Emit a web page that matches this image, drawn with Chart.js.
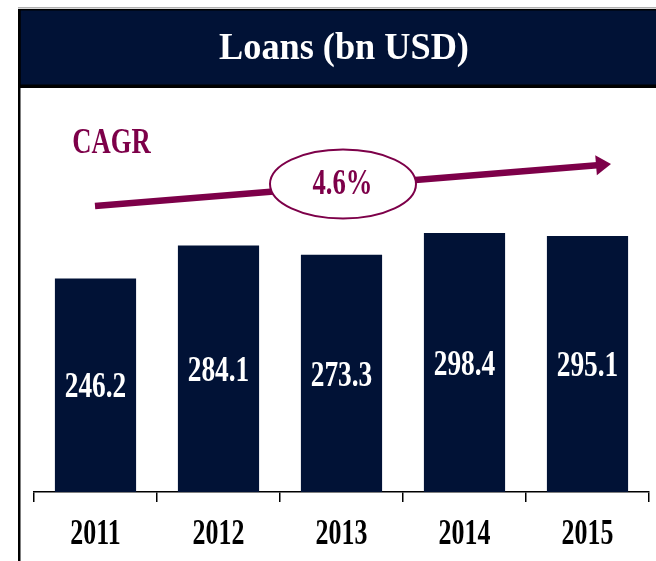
<!DOCTYPE html>
<html>
<head>
<meta charset="utf-8">
<script src="https://cdn.jsdelivr.net/npm/chart.js@4/dist/chart.umd.min.js"></script>
<style>
  html, body { margin: 0; padding: 0; background: #fff; }
  #wrap { width: 656px; height: 561px; }
</style>
</head>
<body>
<div id="wrap"><canvas id="c" width="656" height="561"></canvas></div>
<script>
// data
const years = ["2011", "2012", "2013", "2014", "2015"];
const loans = [246.2, 284.1, 273.3, 298.4, 295.1];
const titleText = "Loans (bn USD)";
const cagrLabel = "CAGR";
const cagrValue = "4.6%";

const NAVY = "#011236";
const MAROON = "#7d0049";
const FONT = "'Liberation Serif', 'Times New Roman', serif";
const SQUISH = 0.74; // the source text is narrow, like a condensed Times

// draw text squeezed horizontally around (x, y)
function narrowText(ctx, txt, x, y, size, color, sx) {
  ctx.save();
  ctx.font = "bold " + size + "px " + FONT;
  ctx.fillStyle = color;
  ctx.textAlign = "center";
  ctx.textBaseline = "middle";
  ctx.translate(x, y);
  ctx.scale(sx, 1);
  ctx.fillText(txt, 0, 0);
  ctx.restore();
}

const decorPlugin = {
  id: "decor",
  beforeDraw(chart) {
    const ctx = chart.ctx;
    ctx.save();
    ctx.fillStyle = "#fff";
    ctx.fillRect(0, 0, chart.width, chart.height);
    // thin grey rule on top
    ctx.fillStyle = "#b0b0b0";
    ctx.fillRect(18, 7, chart.width - 18, 1.5);
    // header box
    ctx.fillStyle = "#000";
    ctx.fillRect(18, 9, chart.width - 18, 79);
    ctx.fillStyle = NAVY;
    ctx.fillRect(20.5, 10.5, chart.width - 20.5, 74);
    // left frame line
    ctx.fillStyle = "#000";
    ctx.fillRect(18, 9, 2.5, chart.height - 9);
    ctx.restore();

    narrowText(ctx, titleText, 344, 49, 37, "#fff", 0.98);

    // CAGR arrow
    const x0 = 95, y0 = 206, x1 = 611, y1 = 164;
    const ang = Math.atan2(y1 - y0, x1 - x0);
    const headLen = 15, headHalf = 10;
    const bx = x1 - headLen * Math.cos(ang), by = y1 - headLen * Math.sin(ang);
    ctx.save();
    ctx.strokeStyle = MAROON;
    ctx.fillStyle = MAROON;
    ctx.lineWidth = 6.5;
    ctx.beginPath();
    ctx.moveTo(x0, y0);
    ctx.lineTo(bx + 1, by);
    ctx.stroke();
    ctx.beginPath();
    ctx.moveTo(x1, y1);
    ctx.lineTo(bx - headHalf * Math.sin(ang), by + headHalf * Math.cos(ang));
    ctx.lineTo(bx + headHalf * Math.sin(ang), by - headHalf * Math.cos(ang));
    ctx.closePath();
    ctx.fill();
    // ellipse
    ctx.beginPath();
    ctx.ellipse(343, 184, 73, 34.5, 0, 0, Math.PI * 2);
    ctx.fillStyle = "#fff";
    ctx.fill();
    ctx.lineWidth = 2;
    ctx.stroke();
    ctx.restore();

    narrowText(ctx, cagrLabel, 111.5, 144, 36, MAROON, SQUISH);
    narrowText(ctx, cagrValue, 342.5, 185, 36, MAROON, SQUISH);
  },
  afterDatasetsDraw(chart) {
    const ctx = chart.ctx;
    const meta = chart.getDatasetMeta(0);
    meta.data.forEach((bar, i) => {
      const mid = (bar.y + bar.base) / 2 + 3;
      narrowText(ctx, loans[i].toFixed(1), bar.x, mid, 36, "#fff", 0.76);
    });
  },
  afterDraw(chart) {
    const xs = chart.scales.x;
    years.forEach((y, i) => {
      narrowText(chart.ctx, y, xs.getPixelForValue(i), 535, 35, "#000", SQUISH);
    });
  }
};

new Chart(document.getElementById("c"), {
  type: "bar",
  data: {
    labels: years,
    datasets: [{
      data: loans,
      backgroundColor: NAVY,
      borderWidth: 0,
      barPercentage: 0.66,
      categoryPercentage: 1
    }]
  },
  options: {
    responsive: false,
    animation: false,
    layout: { padding: { left: 34, right: 7, top: 197, bottom: 59 } },
    plugins: { legend: { display: false }, tooltip: { enabled: false } },
    scales: {
      x: {
        grid: {
          display: true,
          drawOnChartArea: false,
          drawTicks: true,
          tickLength: 10,
          color: "#000",
          lineWidth: 1.5
        },
        border: { display: true, color: "#000", width: 1.5 },
        ticks: { display: false }
      },
      y: {
        display: false,
        min: 0,
        max: 340
      }
    }
  },
  plugins: [decorPlugin]
});
</script>
</body>
</html>
